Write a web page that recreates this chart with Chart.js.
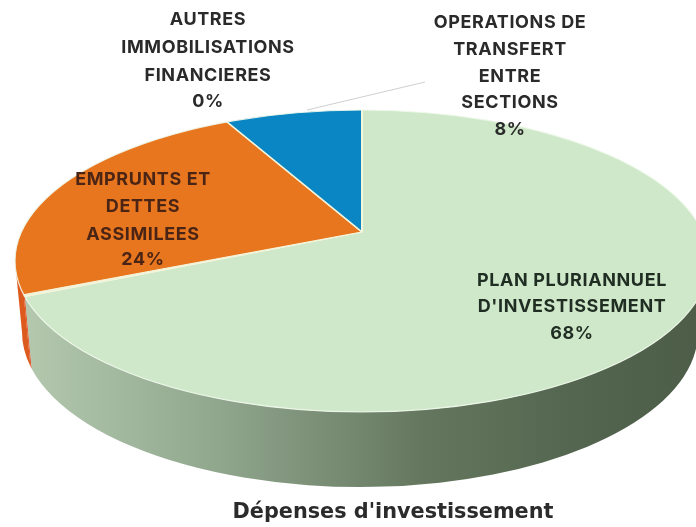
<!DOCTYPE html>
<html><head><meta charset="utf-8">
<style>html,body{margin:0;padding:0;background:#fff}canvas{display:block}</style>
<script src="https://cdn.jsdelivr.net/npm/chart.js@4"></script>
</head><body>
<canvas id="c" width="696" height="527"></canvas>
<script>
const categories = ["PLAN PLURIANNUEL D'INVESTISSEMENT","AUTRES IMMOBILISATIONS FINANCIERES","EMPRUNTS ET DETTES ASSIMILEES","OPERATIONS DE TRANSFERT ENTRE SECTIONS"];
const values = [68.4, 0.2, 23.6, 7.8];
const percentLabels = ["68%","0%","24%","8%"];
const labelLines = [["PLAN PLURIANNUEL","D'INVESTISSEMENT"],["AUTRES","IMMOBILISATIONS","FINANCIERES"],["EMPRUNTS ET","DETTES","ASSIMILEES"],["OPERATIONS DE","TRANSFERT","ENTRE","SECTIONS"]];
const sliceColors = ["#cfe8c9","#f0f2d8","#e8761f","#0a86c4"];
const sideColors = [null,"#e2481f","#dc5a1e","#08699a"];
const titleText = "Dépenses d'investissement";

const APEX = {x:362,y:232};
const TOP = {x:362,y:261,rx:347,ry:151};
const BOT = {x:360,y:332,rx:338,ry:155};
const S = TOP.ry/TOP.rx;
const LABEL_POS = [
  {x:572,ys:[281,307,334],c:"#1f2d22"},
  {x:208,ys:[20,48,76,102],c:"#2a2a2a"},
  {x:143,ys:[180,207,235,260],c:"#4a2414"},
  {x:510,ys:[23,50,77,103,130],c:"#2a2a2a"}
];
function rayToT(a){
  const dx=Math.cos(a), dy=Math.sin(a)*S;
  const ox=APEX.x-TOP.x, oy=APEX.y-TOP.y;
  const A=dx*dx/(TOP.rx*TOP.rx)+dy*dy/(TOP.ry*TOP.ry);
  const B=2*(ox*dx/(TOP.rx*TOP.rx)+oy*dy/(TOP.ry*TOP.ry));
  const C=ox*ox/(TOP.rx*TOP.rx)+oy*oy/(TOP.ry*TOP.ry)-1;
  const k=(-B+Math.sqrt(B*B-4*A*C))/(2*A);
  const px=APEX.x+k*dx-TOP.x, py=APEX.y+k*dy-TOP.y;
  let t=Math.atan2(py/TOP.ry,px/TOP.rx);
  if(t<-Math.PI/2) t+=2*Math.PI;
  return t;
}
function sideFill(ctx,i){
  if(i===0){
    const g=ctx.createLinearGradient(20,0,696,0);
    g.addColorStop(0,"#b4c9ae");
    g.addColorStop(0.12,"#a5bba2");
    g.addColorStop(0.3,"#8fa58c");
    g.addColorStop(0.45,"#7a8e76");
    g.addColorStop(0.6,"#64775e");
    g.addColorStop(0.8,"#556750");
    g.addColorStop(1,"#4d5d48");
    return g;
  }
  return sideColors[i];
}
const pie3d = {
  id:'pie3d',
  beforeDatasetsDraw(chart){
    const ctx=chart.ctx, meta=chart.getDatasetMeta(0), ca=chart.chartArea;
    meta.data.forEach((arc,i)=>{
      let t0=rayToT(arc.startAngle), t1=rayToT(arc.endAngle);
      t0=Math.max(t0,0); t1=Math.min(t1,Math.PI);
      if(t1<=t0) return;
      ctx.beginPath();
      ctx.ellipse(TOP.x,TOP.y,TOP.rx,TOP.ry,0,t0,t1,false);
      ctx.ellipse(BOT.x,BOT.y,BOT.rx,BOT.ry,0,t1,t0,true);
      ctx.closePath();
      ctx.fillStyle=sideFill(ctx,i);
      ctx.fill();
    });
    ctx.save();
    ctx.beginPath();
    ctx.ellipse(TOP.x,TOP.y,TOP.rx,TOP.ry,0,0,Math.PI*2);
    ctx.clip();
    const cx=(ca.left+ca.right)/2, cy=(ca.top+ca.bottom)/2;
    ctx.translate(APEX.x,APEX.y);
    ctx.scale(1,S);
    ctx.translate(-cx,-cy);
  },
  afterDatasetsDraw(chart){
    const ctx=chart.ctx;
    ctx.restore();
    ctx.beginPath();
    ctx.ellipse(TOP.x,TOP.y,TOP.rx,TOP.ry,0,0,Math.PI*2);
    ctx.strokeStyle="rgba(240,248,235,0.9)";
    ctx.lineWidth=1.2;
    ctx.stroke();
    ctx.beginPath();
    ctx.moveTo(307,110);ctx.lineTo(425,82);
    ctx.strokeStyle="#cfcfcf";ctx.lineWidth=1;ctx.stroke();
    ctx.save();
    ctx.textAlign="center";ctx.textBaseline="middle";
    ctx.font="700 18px Inter";
    ctx.letterSpacing="0.6px";
    labelLines.forEach((lines,i)=>{
      const p=LABEL_POS[i];
      ctx.fillStyle=p.c;
      lines.concat(percentLabels[i]).forEach((s,j)=>ctx.fillText(s,p.x,p.ys[j]));
    });
    ctx.restore();
  }
};
new Chart(document.getElementById('c'),{
  type:'pie',
  data:{labels:categories,datasets:[{data:values,backgroundColor:sliceColors,borderColor:"#f4f6dc",borderWidth:2,radius:430,clip:false}]},
  plugins:[pie3d],
  options:{
    responsive:false,animation:false,
    layout:{padding:{left:90}},
    events:[],
    plugins:{
      legend:{display:false},tooltip:{enabled:false},
      title:{display:true,text:titleText,position:'bottom',fullSize:false,color:"#2b2b2b",
        font:{family:"'DejaVu Sans'",size:20.8,weight:'bold'},padding:{top:0,bottom:2}}
    }
  }
});
</script>
</body></html>
